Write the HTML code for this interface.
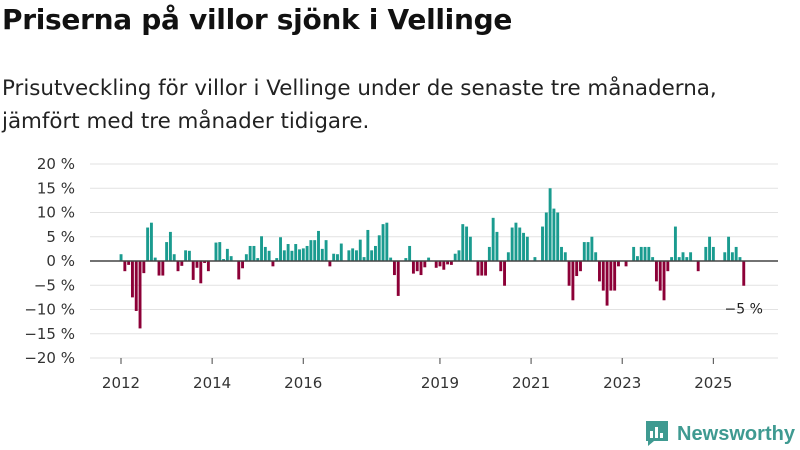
<!DOCTYPE html>
<html><head><meta charset="utf-8"><style>
body{margin:0;background:#fff;font-family:"Liberation Sans","DejaVu Sans",sans-serif;}
#wrap{position:relative;width:800px;height:450px;overflow:hidden;}
h1{position:absolute;left:2px;top:3px;margin:0;font-size:28px;font-weight:bold;color:#111;font-family:"DejaVu Sans","Liberation Sans",sans-serif;letter-spacing:-0.3px}
p{position:absolute;left:2px;top:72px;margin:0;font-size:21.4px;line-height:33px;color:#222;font-family:"DejaVu Sans","Liberation Sans",sans-serif;}
</style></head><body>
<div id="wrap">
<h1>Priserna på villor sjönk i Vellinge</h1>
<p>Prisutveckling för villor i Vellinge under de senaste tre månaderna,<br>jämfört med tre månader tidigare.</p>
<svg id="chart" width="800" height="450" style="position:absolute;left:0;top:0"></svg>
</div>
<script>
const startYear = 2012;
const values = [1.4,-2.1,-0.8,-7.5,-10.3,-13.9,-2.5,6.9,7.9,0.7,-3,-3,3.9,6,1.4,-2.1,-1,2.2,2.1,-3.9,-1.4,-4.6,-0.4,-2.1,0,3.8,3.9,0.4,2.5,1,0,-3.8,-1.5,1.4,3.1,3.1,0.6,5.1,2.9,2.1,-1.1,0.6,4.9,2.2,3.5,2.1,3.5,2.4,2.6,3.1,4.3,4.3,6.2,2.5,4.3,-1.1,
1.5,1.4,3.6,0,2.2,2.6,2.2,4.4,0.8,6.4,2.2,3.1,5.3,7.6,7.9,0.7,-2.9,-7.2,0,0.6,3.1,-2.6,-2.1,-2.9,-1.3,0.7,0,-1.4,-1.1,-1.8,-0.7,-0.8,1.5,2.2,7.6,7.1,5,0,-3,-3,-3,2.9,8.9,6,-2.1,-5.1,1.8,6.9,7.9,6.9,5.8,5,0,0.8,0,7.1,10,15,10.8,10,
2.9,1.8,-5.1,-8.1,-3.1,-2.1,3.9,3.9,5,1.8,-4.2,-6.1,-9.2,-6.1,-6.1,-1.1,0,-1.1,0,2.9,1,2.9,2.9,2.9,0.8,-4.2,-6.1,-8.1,-2.1,0.8,7.1,0.8,1.8,0.8,1.8,0,-2.1,0,2.9,5,2.9,0,0,1.8,5,1.8,2.9,0.8,-5.1];
const yTicks = [20,15,10,5,0,-5,-10,-15,-20];
const yTickLabels = ["20 %","15 %","10 %","5 %","0 %","\u22125 %","\u221210 %","\u221215 %","\u221220 %"];
const xTickYears = [2012,2014,2016,2019,2021,2023,2025];
const lastLabel = "\u22125 %";

const svg = document.getElementById('chart');
const NS = 'http://www.w3.org/2000/svg';
const x0 = 121, perMonth = 3.797;
function x(i){return x0 + i*perMonth;}
function y(v){return 261 - v*4.85;}
function mk(tag, attrs, text){const e=document.createElementNS(NS,tag);for(const k in attrs)e.setAttribute(k,attrs[k]);if(text!==undefined)e.textContent=text;svg.appendChild(e);return e;}

yTicks.forEach((t,i)=>{
  if(t!==0){const g=mk('line',{x1:90,x2:778,y1:y(t),y2:y(t),stroke:'#e2e2e2','stroke-width':1});
  
  }
  const l=mk('text',{x:75,y:y(t)+5,'text-anchor':'end','font-size':15,fill:'#333','font-family':'DejaVu Sans, Liberation Sans, sans-serif'},yTickLabels[i]);
  
  
});
values.forEach((v,i)=>{
  const top=Math.min(y(v),y(0)), h=Math.abs(y(v)-y(0));
  const b=mk('rect',{x:x(i)-1.4,y:top,width:2.9,height:h,fill:v>=0?'#1a9b8f':'#8c0037'});
  
  
});
const z=mk('line',{x1:90,x2:778,y1:y(0),y2:y(0),stroke:'#444','stroke-width':1.5});


xTickYears.forEach(yr=>{
  const xi=x((yr-startYear)*12);
  const t=mk('line',{x1:xi,x2:xi,y1:358,y2:364,stroke:'#444','stroke-width':1});
  
  
  const l=mk('text',{x:xi,y:388,'text-anchor':'middle','font-size':15,fill:'#333','font-family':'DejaVu Sans, Liberation Sans, sans-serif'},String(yr));
  
  
});
const li=values.length-1;
const al=mk('text',{x:x(li),y:y(values[li])+28,'text-anchor':'middle','font-size':14,fill:'#222','font-family':'DejaVu Sans, Liberation Sans, sans-serif'},lastLabel);


// logo
const lg=mk('g',{});


const ic=document.createElementNS(NS,'path');
ic.setAttribute('d','M646 421 h22 v20 h-14 l-6 5 v-5 h-2 z');
ic.setAttribute('fill','#3f9a91');
lg.appendChild(ic);
[[650,431,3,7],[655,427,3,11],[660,433,3,5]].forEach(r=>{const e=document.createElementNS(NS,'rect');e.setAttribute('x',r[0]);e.setAttribute('y',r[1]);e.setAttribute('width',r[2]);e.setAttribute('height',r[3]);e.setAttribute('fill','#fff');lg.appendChild(e);});
const lt=document.createElementNS(NS,'text');
lt.setAttribute('x',677);lt.setAttribute('y',440);lt.setAttribute('font-size',20);lt.setAttribute('font-weight','bold');lt.setAttribute('fill','#3f9a91');lt.setAttribute('font-family','Liberation Sans, DejaVu Sans, sans-serif');
lt.setAttribute('textLength',118);lt.setAttribute('lengthAdjust','spacingAndGlyphs');
lt.textContent='Newsworthy';
lg.appendChild(lt);
</script>
</body></html>
